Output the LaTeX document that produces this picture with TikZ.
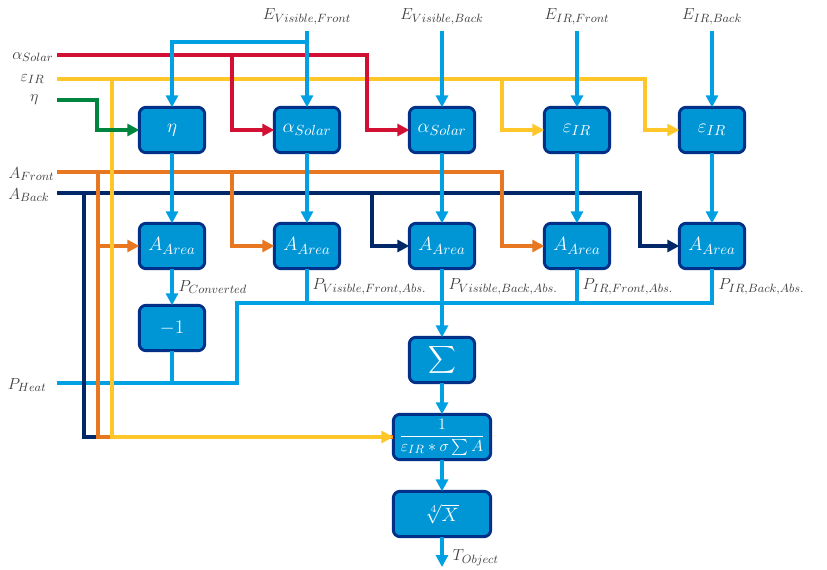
\documentclass[tikz,border=0pt]{standalone}
\usepackage{amsmath}
\usetikzlibrary{arrows.meta}
\DeclareMathSizes{12}{12}{9.5}{7}
\DeclareMathSizes{14}{14}{10.5}{8}
\definecolor{boxfill}{RGB}{0,150,214}
\definecolor{boxline}{RGB}{0,48,135}
\definecolor{flowblue}{RGB}{0,160,226}
\definecolor{solred}{RGB}{210,16,52}
\definecolor{iryellow}{RGB}{255,198,41}
\definecolor{etagreen}{RGB}{0,133,62}
\definecolor{frontorange}{RGB}{232,119,34}
\definecolor{backnavy}{RGB}{0,40,104}
\definecolor{labelgray}{RGB}{64,64,64}
\tikzset{
  calcbox/.style={draw=boxline,fill=boxfill,line width=2.2pt,rounded corners=5pt,
    minimum width=49pt,minimum height=34pt,text=white,inner sep=1pt,outer sep=0pt,
    font=\fontsize{14}{16}\selectfont},
  widebox/.style={calcbox,minimum width=73pt},
  wire/.style={line width=3pt},
  flow/.style={wire,-{Triangle[length=9pt,width=9pt]}},
  inlabel/.style={anchor=east,text=labelgray,inner sep=1pt},
  toplabel/.style={text=labelgray,inner sep=1pt},
  outlabel/.style={anchor=west,text=labelgray,inner sep=1pt},
}

\begin{document}
\begin{tikzpicture}[x=0.75pt,y=-0.75pt,font=\fontsize{12}{14}\selectfont]
  \useasboundingbox (0,0) rectangle (827,570);

  % calculation blocks
  \node[calcbox] (eta)  at (172,130) {$\eta$};
  \node[calcbox] (asF)  at (307,130) {$\alpha_{Solar}$};
  \node[calcbox] (asB)  at (442,130) {$\alpha_{Solar}$};
  \node[calcbox] (epsF) at (577,130) {$\varepsilon_{IR}$};
  \node[calcbox] (epsB) at (712,130) {$\varepsilon_{IR}$};
  \node[calcbox] (arC)  at (172,246) {$A_{Area}$};
  \node[calcbox] (arVF) at (307,246) {$A_{Area}$};
  \node[calcbox] (arVB) at (442,246) {$A_{Area}$};
  \node[calcbox] (arIF) at (577,246) {$A_{Area}$};
  \node[calcbox] (arIB) at (712,246) {$A_{Area}$};
  \node[calcbox] (neg)  at (172,328) {$-1$};
  \node[calcbox] (sum)  at (442,360) {\Large$\displaystyle\sum$};
  \node[widebox,font=\fontsize{12}{14}\selectfont] (frac) at (442,437)
    {$\dfrac{1}{\varepsilon_{IR}*\sigma\sum A}$};
  \node[widebox] (root) at (442,514) {$\sqrt[4]{X}$};

  % inputs
  \coordinate (inAS)  at (57,55);
  \coordinate (inEps) at (57,79);
  \coordinate (inEta) at (57,100);
  \coordinate (inAF)  at (57,172);
  \coordinate (inAB)  at (57,193);
  \coordinate (inPH)  at (57,383);
  \node[inlabel] (lblAS)  at (55,57)  {$\alpha_{Solar}$};
  \node[inlabel] (lblEps) at (46,79)  {$\varepsilon_{IR}$};
  \node[inlabel] (lblEta) at (40,100) {$\eta$};
  \node[inlabel] (lblAF)  at (56,174) {$A_{Front}$};
  \node[inlabel] (lblAB)  at (51,195) {$A_{Back}$};
  \node[inlabel] (lblPH)  at (48,385) {$P_{Heat}$};
  \coordinate (inEVF) at (307,31);
  \coordinate (inEVB) at (442,31);
  \coordinate (inEIF) at (577,31);
  \coordinate (inEIB) at (712,31);
  \node[toplabel] (lblEVF) at (307,17) {$E_{Visible,Front}$};
  \node[toplabel] (lblEVB) at (442,17) {$E_{Visible,Back}$};
  \node[toplabel] (lblEIF) at (577,17) {$E_{IR,Front}$};
  \node[toplabel] (lblEIB) at (712,17) {$E_{IR,Back}$};

  % outputs
  \node[outlabel] (lblPC)  at (177,287) {$P_{Converted}$};
  \node[outlabel] (lblPVF) at (311,287) {$P_{Visible,Front,Abs.}$};
  \node[outlabel] (lblPVB) at (447,287) {$P_{Visible,Back,Abs.}$};
  \node[outlabel] (lblPIF) at (581,287) {$P_{IR,Front,Abs.}$};
  \node[outlabel] (lblPIB) at (717,287) {$P_{IR,Back,Abs.}$};
  \coordinate (tOut) at (442,567);
  \node[outlabel] (lblT) at (451,558) {$T_{Object}$};

  % junctions
  \coordinate (jEV)  at (307,42);
  \coordinate (jAS1) at (232,55);
  \coordinate (jAS2) at (367,55);
  \coordinate (jIR0) at (112,79);
  \coordinate (jIR1) at (502,79);
  \coordinate (jIR2) at (645,79);
  \coordinate (jEta) at (97,100);
  \coordinate (jAF0) at (98,172);
  \coordinate (jAF1) at (232,172);
  \coordinate (jAF2) at (502,172);
  \coordinate (jAB0) at (84,193);
  \coordinate (jAB1) at (372,193);
  \coordinate (jAB2) at (640,193);
  \coordinate (jHeat) at (237,383);
  \coordinate (jBus) at (237,303);

  % heat and absorbed power bus
  \draw[wire,flowblue] (inPH) -- (jHeat) -- (jBus) -| (arIB.south);
  \draw[wire,flowblue] (neg.south) -- (neg.south |- jHeat);
  \draw[wire,flowblue] (arVF.south) -- (arVF.south |- jBus);
  \draw[wire,flowblue] (arIF.south) -- (arIF.south |- jBus);
  \draw[flow,flowblue] (arVB.south) -- (sum.north);

  % areas
  \draw[wire,backnavy] (inAB) -- (jAB0) |- (frac.west);
  \draw[flow,backnavy] (jAB0) -- (jAB2) |- (arIB.west);
  \draw[flow,backnavy] (jAB1) |- (arVB.west);
  \draw[wire,frontorange] (inAF) -- (jAF0) |- (frac.west);
  \draw[flow,frontorange] (jAF0) -- (jAF2) |- (arIF.west);
  \draw[flow,frontorange] (jAF0 |- arC.west) -- (arC.west);
  \draw[flow,frontorange] (jAF1) |- (arVF.west);

  % emissivity
  \draw[flow,iryellow] (inEps) -- (jIR2) |- (epsB.west);
  \draw[flow,iryellow] (jIR1) |- (epsF.west);
  \draw[flow,iryellow] (jIR0) |- (frac.west);

  % efficiency and absorptance
  \draw[flow,etagreen] (inEta) -- (jEta) |- (eta.west);
  \draw[flow,solred] (inAS) -- (jAS2) |- (asB.west);
  \draw[flow,solred] (jAS1) |- (asF.west);

  % irradiance
  \draw[flow,flowblue] (inEVF) -- (asF.north);
  \draw[flow,flowblue] (jEV) -| (eta.north);
  \draw[flow,flowblue] (inEVB) -- (asB.north);
  \draw[flow,flowblue] (inEIF) -- (epsF.north);
  \draw[flow,flowblue] (inEIB) -- (epsB.north);
  \foreach \a/\b in {eta/arC,asF/arVF,asB/arVB,epsF/arIF,epsB/arIB}
    \draw[flow,flowblue] (\a.south) -- (\b.north);
  \draw[flow,flowblue] (arC.south) -- (neg.north);
  \draw[flow,flowblue] (sum.south) -- (frac.north);
  \draw[flow,flowblue] (frac.south) -- (root.north);
  \draw[flow,flowblue] (root.south) -- (tOut);
\end{tikzpicture}
\end{document}
